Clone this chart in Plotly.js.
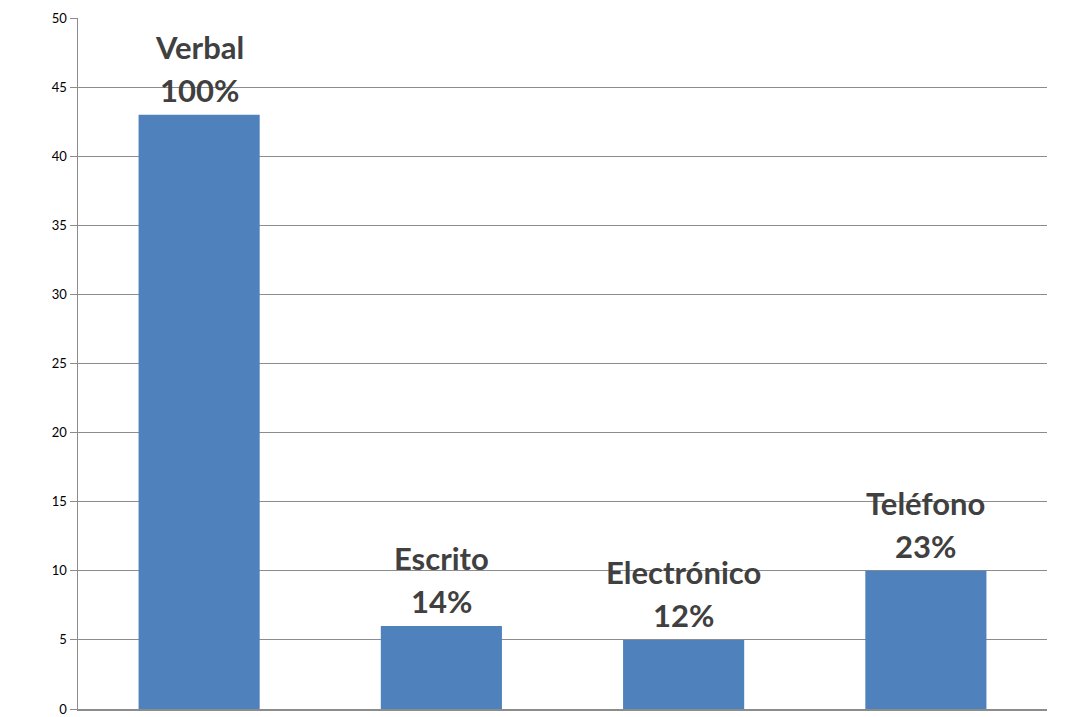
<!DOCTYPE html>
<html>
<head>
<meta charset="utf-8">
<script src="https://cdn.plot.ly/plotly-3.0.1.min.js"></script>
<style>html,body{margin:0;padding:0;background:#fff;}#chart{width:1091px;height:717px;}</style>
</head>
<body>
<div id="chart"></div>
<script>
const categories = ["Verbal", "Escrito", "Electrónico", "Teléfono"];
const values = [43, 6, 5, 10];
const percentLabels = ["100%", "14%", "12%", "23%"];
const yTicks = [0, 5, 10, 15, 20, 25, 30, 35, 40, 45, 50];

const trace = {
  type: 'bar',
  x: categories,
  y: values,
  marker: {color: '#4F81BD'},
  hoverinfo: 'skip'
};

const labelFont = {family: 'Lato, "Open Sans", sans-serif', size: 31, color: '#404040'};
const annotations = [];
categories.forEach((c, i) => {
  annotations.push({
    x: c, y: values[i], xref: 'x', yref: 'y',
    text: '<b>' + percentLabels[i] + '</b>',
    showarrow: false, yanchor: 'bottom', yshift: 4,
    font: labelFont
  });
  annotations.push({
    x: c, y: values[i], xref: 'x', yref: 'y',
    text: '<b>' + c + '</b>',
    showarrow: false, yanchor: 'bottom', yshift: 47,
    font: labelFont
  });
});

const layout = {
  width: 1091,
  height: 717,
  margin: {l: 78, r: 44, t: 18, b: 8},
  paper_bgcolor: '#ffffff',
  plot_bgcolor: '#ffffff',
  showlegend: false,
  bargap: 0.5,
  xaxis: {
    showticklabels: false,
    ticks: '',
    showgrid: false,
    zeroline: false,
    showline: true,
    linecolor: '#8c8c8c',
    linewidth: 1.5
  },
  yaxis: {
    range: [0, 50],
    tickvals: yTicks,
    ticktext: yTicks.map(String),
    ticks: 'outside',
    ticklen: 7,
    tickcolor: '#8c8c8c',
    tickwidth: 1,
    showgrid: true,
    gridcolor: '#8c8c8c',
    gridwidth: 1,
    zeroline: false,
    showline: true,
    linecolor: '#8c8c8c',
    linewidth: 1.5,
    tickfont: {family: 'Lato, "Open Sans", sans-serif', size: 13, color: '#000000'}
  },
  annotations: annotations
};

Plotly.newPlot('chart', [trace], layout, {displayModeBar: false, staticPlot: true});
</script>
</body>
</html>
